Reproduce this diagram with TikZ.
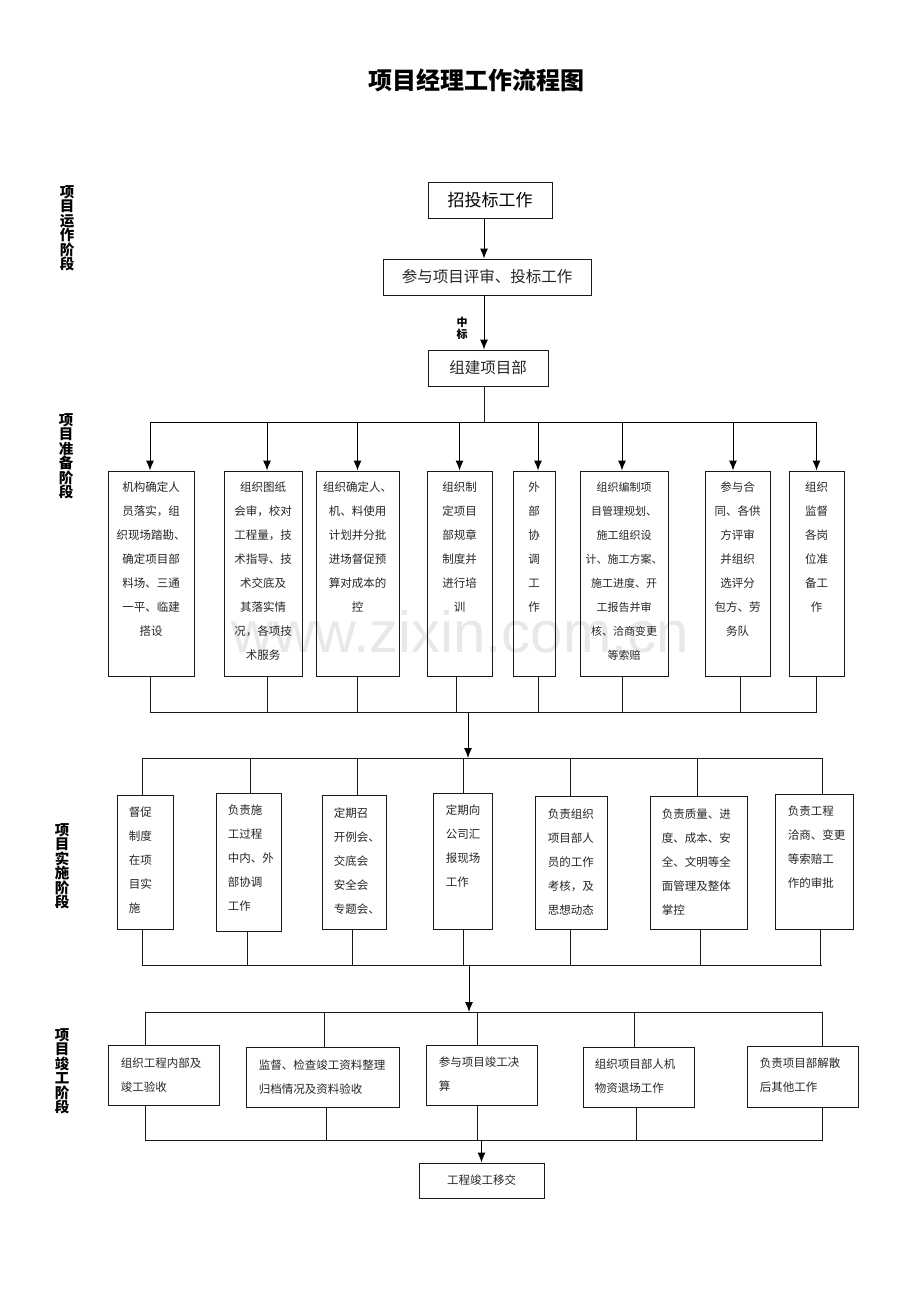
\documentclass[tikz,border=0pt]{standalone}
\usepackage{fontspec}
\setmainfont{Noto Sans CJK SC}
\newfontfamily\wmfont{Liberation Sans}
\usetikzlibrary{arrows.meta,fit,calc}
\begin{document}
\begin{tikzpicture}[x=1pt,y=-1pt,
  ln/.style={line width=1pt, draw=black!90},
  arr/.style={line width=1pt, draw=black, -{Latex[length=10pt,width=8pt]}},
  bx/.style={draw=black!90, line width=0.9pt, inner sep=0pt},
  txt/.style={font=\fontsize{11.5}{24}\selectfont, inner sep=0pt, text=black!85},
  ctxt/.style={txt, align=center, anchor=north},
  ltxt/.style={txt, align=left, anchor=north west},
  stage/.style={font=\bfseries\fontsize{14.5}{14.5}\selectfont, align=center, inner sep=0pt, anchor=north},
]
\useasboundingbox[fill=white] (0,0) rectangle (920,1302);

% watermark
\node[font=\wmfont\fontsize{58}{60}\selectfont, text=black!9] (wm) at (460,632) {www.zixin.com.cn};

% title
\node[font=\bfseries\fontsize{24}{28}\selectfont] (title) at (476,80) {项目经理工作流程图};

% stage labels
\node[stage] (s1) at (67,185) {项\\目\\运\\作\\阶\\段};
\node[stage] (s2) at (66,413) {项\\目\\准\\备\\阶\\段};
\node[stage] (s3) at (62,823) {项\\目\\实\\施\\阶\\段};
\node[stage] (s4) at (62,1028) {项\\目\\竣\\工\\阶\\段};

% top chain
\node[bx, fit={(428,182)(552,218)}] (t1) {};
\node[bx, fit={(383,259)(591,295)}] (t2) {};
\node[bx, fit={(428,350)(548,386)}] (t3) {};
\node[font=\fontsize{17}{20}\selectfont, inner sep=0pt] at (t1.center) {招投标工作};
\node[font=\fontsize{15.5}{18}\selectfont, inner sep=0pt, text=black!85] at (t2.center) {参与项目评审、投标工作};
\node[font=\fontsize{15.5}{18}\selectfont, inner sep=0pt, text=black!85] at (t3.center) {组建项目部};
\coordinate (xa) at (484,0);
\draw[arr] (t1.south -| xa) -- (t2.north -| xa);
\draw[arr] (t2.south -| xa) -- (t3.north -| xa);
\node[font=\bfseries\fontsize{11}{12}\selectfont, align=center, inner sep=0pt] (zb) at (462,328) {中\\标};

% preparation stage
\coordinate (busP) at (484,422);
\coordinate (busPL) at (150,422);
\coordinate (busPR) at (816.5,422);
\draw[ln] (t3.south -| busP) -- (busP);
\draw[ln] (busPL) -- (busPR);

\node[bx, fit={(108,471)(194,676)}] (p1) {};
\node[bx, fit={(224,471)(302,676)}] (p2) {};
\node[bx, fit={(316,471)(399,676)}] (p3) {};
\node[bx, fit={(427,471)(492,676)}] (p4) {};
\node[bx, fit={(513,471)(555,676)}] (p5) {};
\node[bx, fit={(580,471)(668,676)}] (p6) {};
\node[bx, fit={(705,471)(770,676)}] (p7) {};
\node[bx, fit={(789,471)(844,676)}] (p8) {};

\node[ctxt] at ($(p1.north)+(0,11)$) {机构确定人\\员落实，组\\织现场踏勘、\\确定项目部\\料场、三通\\一平、临建\\搭设};
\node[ctxt] at ($(p2.north)+(0,11)$) {组织图纸\\会审，校对\\工程量，技\\术指导、技\\术交底及\\其落实情\\况，各项技\\术服务};
\node[ctxt] at ($(p3.north)+(0,11)$) {组织确定人、\\机、料使用\\计划并分批\\进场督促预\\算对成本的\\控};
\node[ctxt] at ($(p4.north)+(0,11)$) {组织制\\定项目\\部规章\\制度并\\进行培\\训};
\node[ctxt] at ($(p5.north)+(0,11)$) {外\\部\\协\\调\\工\\作};
\node[ctxt, font=\fontsize{11}{24}\selectfont] at ($(p6.north)+(0,11)$) {组织编制项\\目管理规划、\\施工组织设\\计、施工方案、\\施工进度、开\\工报告并审\\核、洽商变更\\等索赔};
\node[ctxt] at ($(p7.north)+(0,11)$) {参与合\\同、各供\\方评审\\并组织\\选评分\\包方、劳\\务队};
\node[ctxt] at ($(p8.north)+(0,11)$) {组织\\监督\\各岗\\位准\\备工\\作};

\foreach \n/\d in {p1/-1,p2/4,p3/0,p4/0,p5/4,p6/-2,p7/-4.5,p8/0}{
  \draw[arr] (busP) -| ($(\n.north)+(\d,0)$);
}

\coordinate (busQL) at (150,712);
\coordinate (busQR) at (816.5,712);
\draw[ln] (busQL) -- (busQR);
\foreach \n/\d in {p1/-1,p2/4,p3/0,p4/-3.5,p5/4,p6/-2,p7/2.5,p8/0}{
  \draw[ln] ($(\n.south)+(\d,0)$) |- (busQL);
}
\coordinate (jq) at (468,712);
\coordinate (jr) at (468,758);
\draw[arr] (jq) -- (jr);

% implementation stage
\coordinate (busRL) at (142,758);
\coordinate (busRR) at (822,758);
\draw[ln] (busRL) -- (busRR);

\node[bx, fit={(117,795)(173,929)}] (i1) {};
\node[bx, fit={(216,793)(281,931)}] (i2) {};
\node[bx, fit={(322,795)(386,929)}] (i3) {};
\node[bx, fit={(433,793)(492,929)}] (i4) {};
\node[bx, fit={(535,796)(607,929)}] (i5) {};
\node[bx, fit={(650,796)(747,929)}] (i6) {};
\node[bx, fit={(775,794)(853,929)}] (i7) {};

\node[ltxt] at ($(i1.north west)+(12,12)$) {督促\\制度\\在项\\目实\\施};
\node[ltxt] at ($(i2.north west)+(12,12)$) {负责施\\工过程\\中内、外\\部协调\\工作};
\node[ltxt] at ($(i3.north west)+(12,13)$) {定期召\\开例会、\\交底会\\安全会\\专题会、};
\node[ltxt] at ($(i4.north west)+(13,12)$) {定期向\\公司汇\\报现场\\工作};
\node[ltxt] at ($(i5.north west)+(13,13)$) {负责组织\\项目部人\\员的工作\\考核，及\\思想动态};
\node[ltxt] at ($(i6.north west)+(12,13)$) {负责质量、进\\度、成本、安\\全、文明等全\\面管理及整体\\掌控};
\node[ltxt] at ($(i7.north west)+(13,12)$) {负责工程\\洽商、变更\\等索赔工\\作的审批};

\foreach \n/\d in {i1/-3,i2/1.5,i3/3,i4/0.5,i5/-1,i6/-1.5,i7/8}{
  \draw[ln] ($(\n.north)+(\d,0)$) |- (busRL);
}

\coordinate (busSL) at (142,965);
\coordinate (busSR) at (822,965);
\draw[ln] (busSL) -- (busSR);
\foreach \n/\d in {i1/-3,i2/-1.5,i3/-2,i4/0.5,i5/-1,i6/1.5,i7/6}{
  \draw[ln] ($(\n.south)+(\d,0)$) |- (busSL);
}
\coordinate (js) at (469,965);
\coordinate (jt) at (469,1012);
\draw[arr] (js) -- (jt);

% completion stage
\coordinate (busTL) at (145,1012);
\coordinate (busTR) at (822,1012);
\draw[ln] (busTL) -- (busTR);

\node[bx, fit={(108,1045)(219,1105)}] (c1) {};
\node[bx, fit={(246,1047)(399,1107)}] (c2) {};
\node[bx, fit={(426,1045)(537,1105)}] (c3) {};
\node[bx, fit={(583,1047)(694,1107)}] (c4) {};
\node[bx, fit={(747,1046)(858,1107)}] (c5) {};

\node[ltxt] at ($(c1.north west)+(13,13)$) {组织工程内部及\\竣工验收};
\node[ltxt] at ($(c2.north west)+(13,13)$) {监督、检查竣工资料整理\\归档情况及资料验收};
\node[ltxt] at ($(c3.north west)+(13,12)$) {参与项目竣工决\\算};
\node[ltxt] at ($(c4.north west)+(12,12)$) {组织项目部人机\\物资退场工作};
\node[ltxt] at ($(c5.north west)+(13,12)$) {负责项目部解散\\后其他工作};

\foreach \n/\d in {c1/-18.5,c2/1.5,c3/-4.5,c4/-4.5,c5/19.5}{
  \draw[ln] ($(\n.north)+(\d,0)$) |- (busTL);
}

\coordinate (busUL) at (145,1140);
\coordinate (busUR) at (822,1140);
\draw[ln] (busUL) -- (busUR);
\foreach \n/\d in {c1/-18.5,c2/3.5,c3/-4.5,c4/-2.5,c5/19.5}{
  \draw[ln] ($(\n.south)+(\d,0)$) |- (busUL);
}

\node[bx, fit={(419,1163)(544,1198)}] (f) {};
\node[font=\fontsize{11.5}{14}\selectfont, text=black!85, inner sep=0pt] at (f.center) {工程竣工移交};
\draw[arr] (f.north |- busUL) -- (f.north);

\end{tikzpicture}
\end{document}
